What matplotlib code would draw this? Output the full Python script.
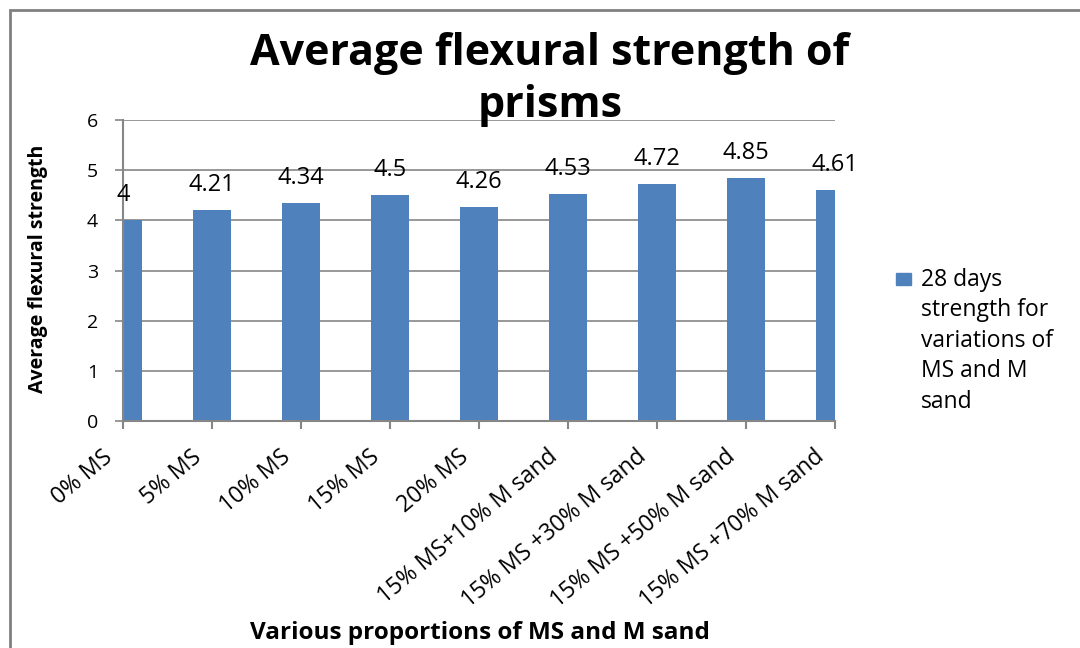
import matplotlib
matplotlib.use("Agg")
import matplotlib.pyplot as plt
from matplotlib.patches import Rectangle

# ── data ──────────────────────────────────────────────────────────────────────
categories = [
    "0% MS", "5% MS", "10% MS", "15% MS", "20% MS",
    "15% MS+10% M sand", "15% MS +30% M sand",
    "15% MS +50% M sand", "15% MS +70% M sand",
]
strength = [4, 4.21, 4.34, 4.5, 4.26, 4.53, 4.72, 4.85, 4.61]
value_labels = ["4", "4.21", "4.34", "4.5", "4.26", "4.53", "4.72", "4.85", "4.61"]
y_ticks = [0, 1, 2, 3, 4, 5, 6]
series_name = "28 days\nstrength for\nvariations of\nMS and M\nsand"

BAR = "#4F81BD"
GRID = "#868686"
FONT = "Open Sans"

fig = plt.figure(figsize=(10.8, 6.48), dpi=100, facecolor="white")
ax = fig.add_axes([123 / 1080, 1 - 421 / 648, 712 / 1080, 301 / 648])

x = list(range(len(categories)))
ax.bar(x, strength, width=0.42, color=BAR, zorder=2)

for xi, v, lab in zip(x, strength, value_labels):
    ax.annotate(lab, (xi, v), xytext=(0, 18), textcoords="offset points",
                ha="center", va="center", fontsize=17, family=FONT,
                color="black", annotation_clip=False)

ax.set_xlim(0, len(categories) - 1)
ax.set_ylim(0, 6)
ax.set_yticks(y_ticks)
ax.set_yticklabels([str(t) for t in y_ticks], fontsize=14, family=FONT)
ax.set_xticks(x)
ax.set_xticklabels([])
ax.tick_params(axis="x", length=6, color=GRID, width=1.5)
ax.tick_params(axis="y", length=6, color=GRID, width=1.2, pad=12)

# slanted category labels, ending just left of each tick
for xi, cat in zip(x, categories):
    ax.annotate(cat, (xi, 0), xycoords=ax.get_xaxis_transform(),
                xytext=(-21, -24), textcoords="offset pixels",
                ha="right", va="top", rotation=40, rotation_mode="anchor",
                fontsize=16.5, family=FONT, annotation_clip=False)

ax.yaxis.grid(True, color=GRID, linewidth=1.2, zorder=0)
ax.set_axisbelow(True)
for side in ("top", "right"):
    ax.spines[side].set_visible(False)
for side in ("left", "bottom"):
    ax.spines[side].set_color(GRID)
    ax.spines[side].set_linewidth(1.5)

fig.text(38 / 1080, 1 - 269 / 648, "Average flexural strength", rotation=90,
         ha="center", va="center", fontsize=14, fontweight="bold", family=FONT)

fig.text(480 / 1080, 1 - 633 / 648, "Various proportions of MS and M sand",
         ha="center", va="center", fontsize=17.5, fontweight="bold", family=FONT)

# two-line chart title
fig.text(550 / 1080, 1 - 65 / 648, "Average flexural strength of",
         ha="center", va="baseline", fontsize=31, fontweight="bold", family=FONT)
fig.text(550 / 1080, 1 - 117 / 648, "prisms",
         ha="center", va="baseline", fontsize=31, fontweight="bold", family=FONT)

# legend entry
fig.patches.append(Rectangle((896 / 1080, 1 - 285 / 648), 15 / 1080, 12 / 648,
                             transform=fig.transFigure, color=BAR))
fig.text(921 / 1080, 1 - 268 / 648, series_name, ha="left", va="top",
         fontsize=16.5, family=FONT, linespacing=1.36)

# chart border
fig.patches.append(Rectangle((10 / 1080, -0.05), 1.2, 1 - 10 / 648 + 0.05,
                             transform=fig.transFigure, fill=False,
                             edgecolor="#808080", linewidth=2))

fig.savefig("out.png", dpi=100, facecolor="white")
